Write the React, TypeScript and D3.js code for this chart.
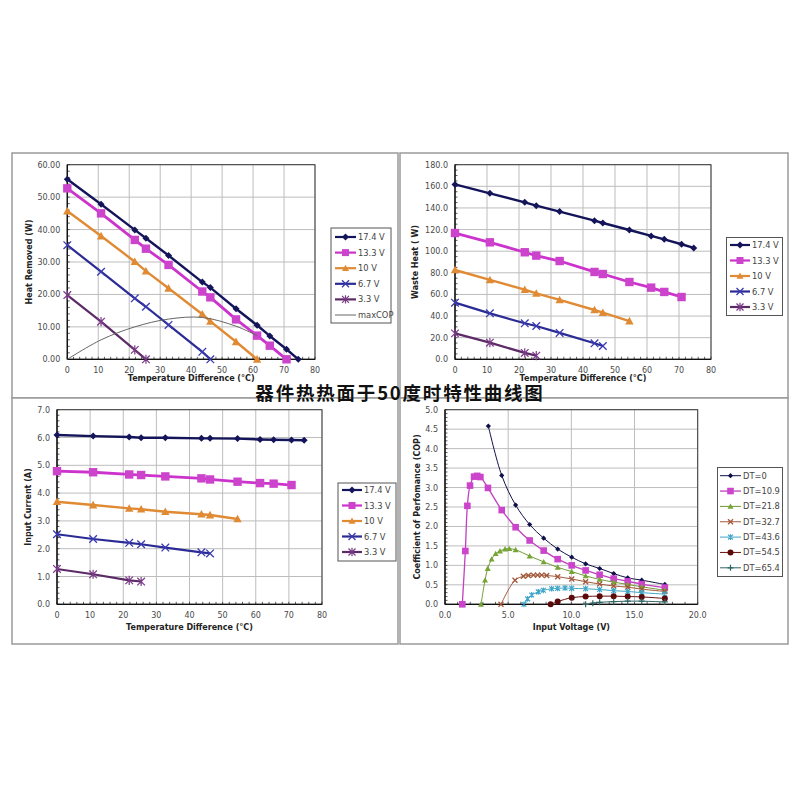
import React from 'react';
import * as d3 from 'd3';

// ---------- DATA ----------
const dtAll = [0, 10.9, 21.8, 25.4, 32.7, 43.6, 46.2, 54.5, 61.3, 65.4, 70.8, 74.6];
const voltNames = ['17.4 V', '13.3 V', '10 V', '6.7 V', '3.3 V'];

// Heat removed (W)
const hr174 = [55.5, 47.8, 39.9, 37.3, 32.0, 23.8, 22.1, 15.6, 10.5, 7.2, 3.1, 0];
const hr133 = [52.7, 45.0, 36.8, 34.1, 29.1, 20.9, 19.1, 12.3, 7.3, 4.2, 0];
const hr10 = [45.7, 38.0, 30.1, 27.2, 21.9, 13.9, 11.7, 5.4, 0];
const hr67 = [35.2, 27.0, 18.8, 16.2, 10.6, 2.3, 0];
const hr33 = [19.8, 11.6, 2.9, 0];
const maxCopDT = [0, 10.9, 21.8, 32.7, 43.6, 54.5, 61.3];
const maxCopQ = [0, 6.0, 10.0, 12.4, 12.9, 10.2, 7.3];

// Waste heat (W)
const wh174 = [161.8, 153.5, 145.2, 142.1, 136.6, 128.2, 126.1, 119.6, 114.1, 111.0, 106.4, 103.0];
const wh133 = [116.8, 108.2, 99.0, 95.9, 90.9, 80.8, 78.9, 71.5, 66.3, 62.3, 57.6];
const wh10 = [82.6, 73.4, 64.4, 61.0, 54.9, 45.6, 43.2, 35.4];
const wh67 = [52.4, 42.5, 33.3, 30.8, 24.4, 14.8, 12.3];
const wh33 = [24.0, 15.4, 5.9, 3.4];

// Input current (A)
const ic174 = [6.09, 6.05, 6.02, 5.99, 5.99, 5.97, 5.97, 5.96, 5.93, 5.92, 5.91, 5.9];
const ic133 = [4.79, 4.75, 4.67, 4.65, 4.6, 4.53, 4.49, 4.41, 4.36, 4.34, 4.29];
const ic10 = [3.69, 3.57, 3.45, 3.42, 3.33, 3.24, 3.21, 3.07];
const ic67 = [2.52, 2.35, 2.21, 2.16, 2.04, 1.87, 1.83];
const ic33 = [1.27, 1.08, 0.86, 0.82];

// COP vs input voltage
const copNames = ['DT=0', 'DT=10.9', 'DT=21.8', 'DT=32.7', 'DT=43.6', 'DT=54.5', 'DT=65.4'];
const v0 = [3.43, 4.49, 5.59, 6.7, 7.81, 8.92, 10.03, 11.13, 12.24, 13.35, 14.46, 15.57, 17.4];
const cop0 = [4.58, 3.31, 2.55, 2.05, 1.7, 1.42, 1.21, 1.04, 0.92, 0.79, 0.68, 0.62, 0.51];
const v109 = [1.37, 1.61, 1.77, 1.98, 2.3, 2.55, 2.8, 3.4, 4.49, 5.59, 6.7, 7.81, 8.92, 10.03, 11.13, 12.24, 13.35, 14.46, 15.57, 17.4];
const cop109 = [0, 1.37, 2.53, 3.05, 3.28, 3.3, 3.27, 2.99, 2.42, 1.98, 1.64, 1.38, 1.16, 1.0, 0.87, 0.76, 0.66, 0.59, 0.52, 0.43];
const v218 = [2.85, 3.17, 3.38, 3.69, 4.01, 4.35, 4.75, 5.09, 5.59, 6.7, 7.81, 8.92, 10.03, 11.13, 12.24, 13.35, 14.46, 15.57, 17.4];
const cop218 = [0, 0.62, 0.92, 1.16, 1.3, 1.37, 1.42, 1.43, 1.4, 1.24, 1.09, 0.95, 0.84, 0.73, 0.64, 0.57, 0.51, 0.45, 0.36];
const v327 = [4.43, 5.54, 6.2, 6.6, 7.0, 7.33, 7.65, 8.05, 8.92, 10.03, 11.13, 12.24, 13.35, 14.46, 15.57, 17.4];
const cop327 = [0, 0.62, 0.72, 0.74, 0.75, 0.75, 0.75, 0.74, 0.71, 0.65, 0.58, 0.52, 0.47, 0.44, 0.39, 0.33];
const v436 = [6.25, 6.54, 6.86, 7.38, 7.78, 8.44, 8.92, 9.5, 10.03, 11.13, 12.24, 13.35, 14.46, 15.57, 17.4];
const cop436 = [0, 0.14, 0.24, 0.32, 0.36, 0.4, 0.41, 0.42, 0.41, 0.4, 0.38, 0.35, 0.33, 0.3, 0.26];
const v545 = [8.36, 8.92, 10.03, 11.13, 12.24, 13.35, 14.46, 15.57, 17.4];
const cop545 = [0, 0.07, 0.17, 0.2, 0.21, 0.21, 0.2, 0.19, 0.15];
const v654 = [11.13, 11.7, 12.24, 13.35, 14.46, 15.57, 17.4];
const cop654 = [0, 0.03, 0.05, 0.07, 0.08, 0.08, 0.06];

const ticksDT = [0, 10, 20, 30, 40, 50, 60, 70, 80];
const ticksHR = [0, 10, 20, 30, 40, 50, 60];
const ticksWH = [0, 20, 40, 60, 80, 100, 120, 140, 160, 180];
const ticksIC = [0, 1, 2, 3, 4, 5, 6, 7];
const ticksV = [0, 5, 10, 15, 20];
const ticksCOP = [0, 0.5, 1, 1.5, 2, 2.5, 3, 3.5, 4, 4.5, 5];

const title = '器件热热面于50度时特性曲线图';

// ---------- STYLE ----------
const FONT = 'DejaVu Sans, Verdana, sans-serif';
const C174 = '#14145a';
const C133 = '#cc33cc';
const C10 = '#e08a33';
const C67 = '#2b2b96';
const C33 = '#5c2a66';

type Series = {
  name: string; x: number[]; y: number[]; color: string; width: number;
  marker: string; mcolor?: string; msize: number; smooth?: boolean;
};

function Marker({ type, x, y, s, color }: { type: string; x: number; y: number; s: number; color: string }) {
  switch (type) {
    case 'diamond':
      return <path d={`M${x},${y - s}L${x + s},${y}L${x},${y + s}L${x - s},${y}Z`} fill={color} />;
    case 'square':
      return <rect x={x - s} y={y - s} width={2 * s} height={2 * s} fill={color} />;
    case 'triangle':
      return <path d={`M${x},${y - s}L${x + s},${y + s * 0.8}L${x - s},${y + s * 0.8}Z`} fill={color} />;
    case 'circle':
      return <circle cx={x} cy={y} r={s} fill={color} />;
    case 'x':
      return <path d={`M${x - s},${y - s}L${x + s},${y + s}M${x - s},${y + s}L${x + s},${y - s}`} stroke={color} strokeWidth={1.3} fill="none" />;
    case 'star':
      return <path d={`M${x - s},${y - s}L${x + s},${y + s}M${x - s},${y + s}L${x + s},${y - s}M${x},${y - s * 1.2}L${x},${y + s * 1.2}`} stroke={color} strokeWidth={1.2} fill="none" />;
    case 'plus':
      return <path d={`M${x - s},${y}L${x + s},${y}M${x},${y - s}L${x},${y + s}`} stroke={color} strokeWidth={1.2} fill="none" />;
    default:
      return null;
  }
}

type Legend = { x: number; y: number; w: number; h: number; first: number; step: number; l0: number; l1: number; tx: number; fs: number };

type PanelProps = {
  frame: [number, number, number, number];
  plot: [number, number, number, number];
  xDomain: [number, number]; yDomain: [number, number];
  xTicks: number[]; yTicks: number[];
  xFmt: (v: number) => string; yFmt: (v: number) => string;
  xTitle: string; yTitle: string; yTitleX: number; xTitleY: number;
  series: Series[]; legend: Legend;
  xMinor: number; yMinor: number;
};

function Panel(p: PanelProps) {
  const [l, t, r, b] = p.plot;
  const xs = d3.scaleLinear().domain(p.xDomain).range([l, r]);
  const ys = d3.scaleLinear().domain(p.yDomain).range([b, t]);
  const [fx0, fy0, fx1, fy1] = p.frame;
  const xMinorTicks = d3.range(p.xDomain[0], p.xDomain[1] + 1e-9, p.xMinor);
  const yMinorTicks = d3.range(p.yDomain[0], p.yDomain[1] + 1e-9, p.yMinor);
  const lg = p.legend;
  return (
    <g>
      <rect x={fx0} y={fy0} width={fx1 - fx0} height={fy1 - fy0} fill="#fff" stroke="#9a9a9a" strokeWidth={1.5} />
      {p.xTicks.map((v) => (
        <line key={'gx' + v} x1={xs(v)} x2={xs(v)} y1={t} y2={b} stroke="#bdbdbd" strokeWidth={1} />
      ))}
      {p.yTicks.map((v) => (
        <line key={'gy' + v} x1={l} x2={r} y1={ys(v)} y2={ys(v)} stroke="#bdbdbd" strokeWidth={1} />
      ))}
      <rect x={l} y={t} width={r - l} height={b - t} fill="none" stroke="#3a3a3a" strokeWidth={1} />
      {xMinorTicks.map((v, i) => (
        <line key={'mx' + i} x1={xs(v)} x2={xs(v)} y1={b} y2={b - 2.5} stroke="#333" strokeWidth={0.8} />
      ))}
      {yMinorTicks.map((v, i) => (
        <line key={'my' + i} x1={l} x2={l + 2.5} y1={ys(v)} y2={ys(v)} stroke="#333" strokeWidth={0.8} />
      ))}
      <line x1={l} x2={r} y1={b} y2={b} stroke="#111" strokeWidth={1.3} />
      <line x1={l} x2={l} y1={t} y2={b} stroke="#111" strokeWidth={1.3} />
      {p.xTicks.map((v) => (
        <text key={'tx' + v} x={xs(v)} y={b + 14} textAnchor="middle" fontFamily={FONT} fontSize={8} fill="#4a4a4a">
          {p.xFmt(v)}
        </text>
      ))}
      {p.yTicks.map((v) => (
        <text key={'ty' + v} x={l - 7} y={ys(v) + 3} textAnchor="end" fontFamily={FONT} fontSize={8} fill="#4a4a4a">
          {p.yFmt(v)}
        </text>
      ))}
      <text x={(l + r) / 2} y={p.xTitleY} textAnchor="middle" fontFamily={FONT} fontSize={8} fontWeight="bold" fill="#222">
        {p.xTitle}
      </text>
      <text transform={`translate(${p.yTitleX},${(t + b) / 2}) rotate(-90)`} textAnchor="middle" fontFamily={FONT} fontSize={8} fontWeight="bold" fill="#222">
        {p.yTitle}
      </text>
      {p.series.map((s) => {
        const pts: [number, number][] = s.x.map((xv, i) => [xs(xv), ys(s.y[i])]);
        const line = d3.line().curve(s.smooth ? d3.curveCatmullRom.alpha(0.5) : d3.curveLinear);
        return (
          <g key={s.name}>
            <path d={line(pts) || ''} fill="none" stroke={s.color} strokeWidth={s.width} strokeLinejoin="round" />
            {pts.map((pt, i) => (
              <Marker key={i} type={s.marker} x={pt[0]} y={pt[1]} s={s.msize} color={s.mcolor || s.color} />
            ))}
          </g>
        );
      })}
      <rect x={lg.x} y={lg.y} width={lg.w} height={lg.h} fill="#fff" stroke="#555" strokeWidth={1} />
      {p.series.map((s, i) => {
        const yy = lg.first + i * lg.step;
        return (
          <g key={'lg' + s.name}>
            <line x1={lg.l0} x2={lg.l1} y1={yy} y2={yy} stroke={s.color} strokeWidth={Math.min(s.width, 2.2)} />
            <Marker type={s.marker} x={(lg.l0 + lg.l1) / 2} y={yy} s={Math.min(s.msize, 3.5)} color={s.mcolor || s.color} />
            <text x={lg.tx} y={yy + 3} fontFamily={FONT} fontSize={lg.fs} fill="#444">{s.name}</text>
          </g>
        );
      })}
    </g>
  );
}

const f2 = (v: number) => v.toFixed(2);
const f1 = (v: number) => v.toFixed(1);
const f0 = (v: number) => String(v);

function voltSeries(ys: number[][], withMax: boolean): Series[] {
  const colors = [C174, C133, C10, C67, C33];
  const markers = ['diamond', 'square', 'triangle', 'x', 'star'];
  const sizes = [3.5, 4.2, 4.2, 3.8, 3.8];
  const widths = [2.4, 2.8, 2.4, 2.2, 2.2];
  const mcol = [C174, '#cc44cc', C10, '#3a3ab0', '#7a3a88'];
  const out: Series[] = ys.map((y, i) => ({
    name: voltNames[i], x: dtAll.slice(0, y.length), y, color: colors[i], width: widths[i],
    marker: markers[i], msize: sizes[i], mcolor: mcol[i],
  }));
  if (withMax) {
    out.push({ name: 'maxCOP', x: maxCopDT, y: maxCopQ, color: '#666', width: 1, marker: 'none', msize: 0, smooth: true });
  }
  return out;
}

const copSeries: Series[] = [
  { name: copNames[0], x: v0, y: cop0, color: '#10104a', width: 1, marker: 'diamond', msize: 2.6, smooth: true },
  { name: copNames[1], x: v109, y: cop109, color: '#c040c0', width: 1.3, marker: 'square', msize: 3.3, mcolor: '#cc44cc', smooth: true },
  { name: copNames[2], x: v218, y: cop218, color: '#6f9a34', width: 1, marker: 'triangle', msize: 3, mcolor: '#77a535', smooth: true },
  { name: copNames[3], x: v327, y: cop327, color: '#a0583a', width: 1, marker: 'x', msize: 2.5, smooth: true },
  { name: copNames[4], x: v436, y: cop436, color: '#3fa5c8', width: 1, marker: 'star', msize: 2.4, smooth: true },
  { name: copNames[5], x: v545, y: cop545, color: '#6a1010', width: 1, marker: 'circle', msize: 3, mcolor: '#5a0a0a', smooth: true },
  { name: copNames[6], x: v654, y: cop654, color: '#2f6464', width: 1, marker: 'plus', msize: 3, smooth: true },
];

export default function App() {
  return (
    <svg width={800} height={800} style={{ position: 'absolute', left: 0, top: 0, background: '#fff' }}>
      <rect x={0} y={0} width={800} height={800} fill="#fff" />
      <Panel
        frame={[12, 153, 398, 398]} plot={[67.3, 164.7, 315, 359.3]}
        xDomain={[0, 80]} yDomain={[0, 60]} xTicks={ticksDT} yTicks={ticksHR}
        xFmt={f0} yFmt={f2} xTitle="Temperature Difference (°C)" yTitle="Heat Removed (W)"
        yTitleX={32} xTitleY={381} xMinor={2} yMinor={2}
        series={voltSeries([hr174, hr133, hr10, hr67, hr33], true)}
        legend={{ x: 331, y: 228, w: 60, h: 95, first: 237, step: 15.6, l0: 335, l1: 356, tx: 358, fs: 8.3 }}
      />
      <Panel
        frame={[400, 153, 788, 398]} plot={[455, 164.7, 711, 359.3]}
        xDomain={[0, 80]} yDomain={[0, 180]} xTicks={ticksDT} yTicks={ticksWH}
        xFmt={f0} yFmt={f1} xTitle="Temperature Difference (°C)" yTitle="Waste Heat ( W)"
        yTitleX={418} xTitleY={381} xMinor={2} yMinor={5}
        series={voltSeries([wh174, wh133, wh10, wh67, wh33], false)}
        legend={{ x: 726.5, y: 237.5, w: 56, h: 78, first: 245, step: 15.5, l0: 730, l1: 750, tx: 752, fs: 8.3 }}
      />
      <Panel
        frame={[12, 398, 398, 644]} plot={[57, 409.7, 322, 604.3]}
        xDomain={[0, 80]} yDomain={[0, 7]} xTicks={ticksDT} yTicks={ticksIC}
        xFmt={f0} yFmt={f1} xTitle="Temperature Difference (°C)" yTitle="Input Current (A)"
        yTitleX={31} xTitleY={630} xMinor={2} yMinor={0.2}
        series={voltSeries([ic174, ic133, ic10, ic67, ic33], false)}
        legend={{ x: 338, y: 483, w: 58, h: 78, first: 490, step: 15.5, l0: 342, l1: 362, tx: 364, fs: 8.3 }}
      />
      <Panel
        frame={[400, 398, 788, 644]} plot={[445, 409.7, 697.7, 604.3]}
        xDomain={[0, 20]} yDomain={[0, 5]} xTicks={ticksV} yTicks={ticksCOP}
        xFmt={f1} yFmt={f1} xTitle="Input Voltage (V)" yTitle="Coefficient of Perfomance (COP)"
        yTitleX={420} xTitleY={630} xMinor={1} yMinor={0.1}
        series={copSeries}
        legend={{ x: 717.5, y: 467.5, w: 65, h: 109, first: 475.7, step: 15.35, l0: 720, l1: 741, tx: 743, fs: 8.3 }}
      />
      <text x={400} y={400.2} textAnchor="middle" fontFamily="Noto Sans CJK SC" fontWeight="bold" fontSize={18.5} letterSpacing={1.8} fill="#111">
        {title}
      </text>
    </svg>
  );
}
